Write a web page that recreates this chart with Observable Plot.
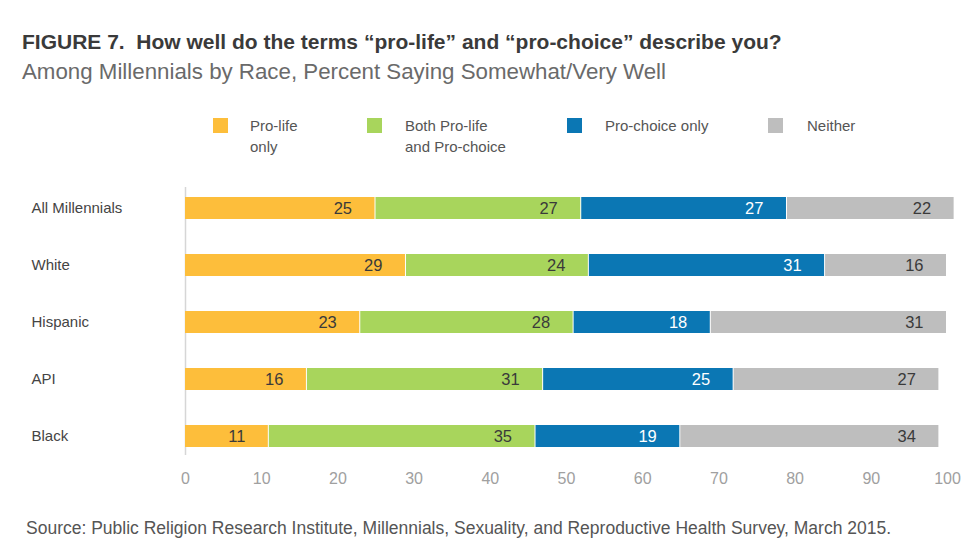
<!DOCTYPE html>
<html>
<head>
<meta charset="utf-8">
<script src="https://cdn.jsdelivr.net/npm/d3@7"></script>
<script src="https://cdn.jsdelivr.net/npm/@observablehq/plot@0.6"></script>
<style>
  html, body { margin: 0; padding: 0; background: #fff; }
  #wrap { position: relative; width: 980px; height: 558px; overflow: hidden; font-family: "Liberation Sans", Arial, sans-serif; }
  .abs { position: absolute; white-space: nowrap; }
  #title { left: 22px; top: 30px; font: bold 21px/24px "Liberation Sans", sans-serif; color: #3a3a3a; }
  #subtitle { left: 22px; top: 60px; font: 22.3px/24px "Liberation Sans", sans-serif; color: #6a6a6a; }
  .lg-sw { position: absolute; width: 15px; height: 15px; top: 118px; }
  .lg-tx { position: absolute; top: 115px; font: 15px/21px "Liberation Sans", sans-serif; color: #555; white-space: nowrap; }
  #caption { left: 26px; top: 517px; font: 17.5px/22px "Liberation Sans", sans-serif; color: #555; }
  #plot { position: absolute; left: 0; top: 175px; }
</style>
</head>
<body>
<div id="wrap">
  <div id="title" class="abs">FIGURE 7.&nbsp; How well do the terms “pro-life” and “pro-choice” describe you?</div>
  <div id="subtitle" class="abs">Among Millennials by Race, Percent Saying Somewhat/Very Well</div>
  <div id="legend"></div>
  <div id="plot"></div>
  <div id="caption" class="abs">Source: Public Religion Research Institute, Millennials, Sexuality, and Reproductive Health Survey, March 2015.</div>
</div>
<script>
// ---- data ----
const groups = ["All Millennials", "White", "Hispanic", "API", "Black"];
const series = ["Pro-life only", "Both Pro-life and Pro-choice", "Pro-choice only", "Neither"];
const legendLabels = [["Pro-life", "only"], ["Both Pro-life", "and Pro-choice"], ["Pro-choice only"], ["Neither"]];
const proLifeOnly   = [25, 29, 23, 16, 11];
const bothTerms     = [27, 24, 28, 31, 35];
const proChoiceOnly = [27, 31, 18, 25, 19];
const neither       = [22, 16, 31, 27, 34];
const xTicks = [0, 10, 20, 30, 40, 50, 60, 70, 80, 90, 100];

// ---- styles ----
const colors = ["#FDBE3B", "#A8D55C", "#0B77B4", "#BEBEBE"];
const labelColors = ["#3a3a3a", "#3a3a3a", "#ffffff", "#3a3a3a"];
const legendSwatchX = [213, 367, 567, 768];
const legendTextX = [250, 405, 605, 807];

const seriesValues = [proLifeOnly, bothTerms, proChoiceOnly, neither];
const rows = [];
series.forEach((s, si) => {
  groups.forEach((g, gi) => {
    rows.push({group: g, series: s, value: seriesValues[si][gi]});
  });
});

// legend
const legend = document.getElementById("legend");
series.forEach((s, i) => {
  const sw = document.createElement("div");
  sw.className = "lg-sw";
  sw.style.left = legendSwatchX[i] + "px";
  sw.style.background = colors[i];
  legend.appendChild(sw);
  const tx = document.createElement("div");
  tx.className = "lg-tx";
  tx.style.left = legendTextX[i] + "px";
  tx.innerHTML = legendLabels[i].join("<br>");
  legend.appendChild(tx);
});

const chart = Plot.plot({
  width: 980,
  height: 330,
  marginLeft: 185,
  marginRight: 33,
  marginTop: 12,
  marginBottom: 50,
  style: {fontFamily: "'Liberation Sans', sans-serif", background: "transparent"},
  x: {domain: [0, 100], label: null},
  y: {domain: groups, range: [21, 272], paddingInner: 0.616, paddingOuter: 0, label: null},
  color: {domain: series, range: colors},
  marks: [
    Plot.ruleX([0], {stroke: "#d6d6d6", strokeWidth: 1.5}),
    Plot.barX(rows, Plot.stackX({x: "value", y: "group", fill: "series", order: series, insetRight: 1})),
    Plot.text(rows, Plot.stackX2({
      x: "value", y: "group", z: "series", order: series,
      text: "value",
      textAnchor: "end", dx: -24,
      fill: d => labelColors[series.indexOf(d.series)],
      fontSize: 16.5
    })),
    Plot.axisX({ticks: xTicks, tickSize: 0, tickPadding: 17, fontSize: 16, color: "#a0a0a0", tickFormat: d => d, label: null}),
    Plot.axisY({tickSize: 0, tickPadding: 0, textAnchor: "start", dx: -154, fontSize: 15, color: "#444", label: null})
  ]
});
document.getElementById("plot").appendChild(chart);
</script>
</body>
</html>
